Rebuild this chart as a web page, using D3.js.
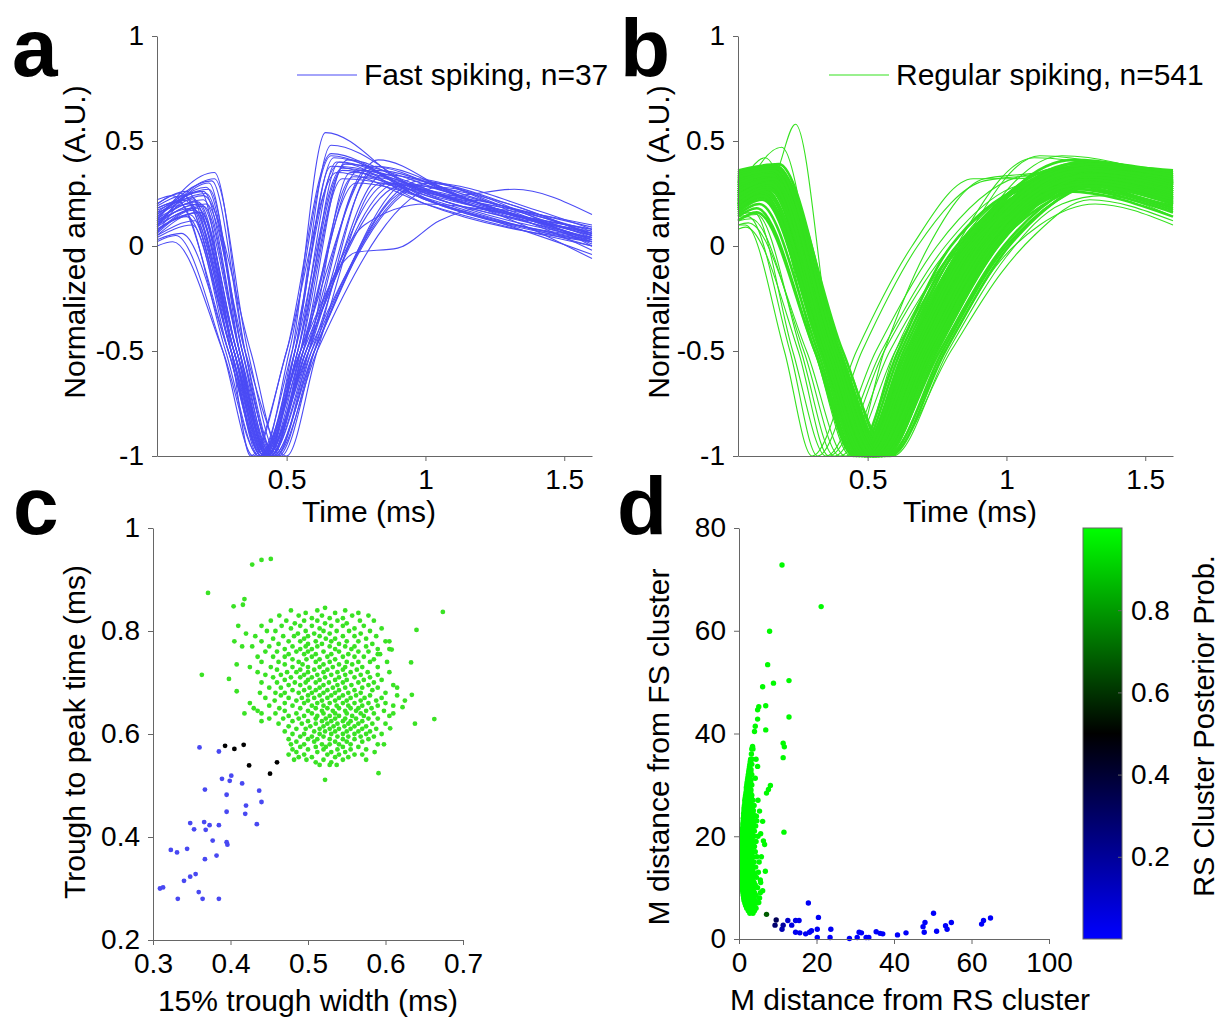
<!DOCTYPE html>
<html><head><meta charset="utf-8">
<script src="https://cdn.jsdelivr.net/npm/d3@7"></script>
<style>body{margin:0;background:#fff}svg{display:block}</style>
</head><body><svg id="fig" width="1222" height="1019"></svg>
<script>
// ---------------- DATA ----------------
const panelLetters = ["a","b","c","d"];
const legendLabels = ["Fast spiking, n=37","Regular spiking, n=541"];
const timeDomain = [0.033, 1.6];
const ampDomain = [-1, 1];
const timeTicks = [0.5, 1, 1.5];
const timeTickLabels = ["0.5","1","1.5"];
const ampTicks = [-1, -0.5, 0, 0.5, 1];
const ampTickLabels = ["-1","-0.5","0","0.5","1"];

// Fast-spiking waveforms: [time (ms), normalized amplitude] control points
const fsWaves = [
 [[.033,.10],[.18,.20],[.31,-.5],[.42,-1],[.52,-.5],[.64,.54],[.95,.28],[1.25,.2],[1.6,.06]],
 [[.033,.14],[.20,.26],[.33,-.5],[.43,-1],[.53,-.5],[.66,.48],[1.0,.25],[1.6,.04]],
 [[.033,.18],[.13,.22],[.30,-.5],[.41,-1],[.51,-.5],[.66,.43],[1.0,.22],[1.6,.02]],
 [[.033,.06],[.22,.30],[.33,-.5],[.43,-1],[.53,-.5],[.67,.42],[1.05,.2],[1.6,.03]],
 [[.033,.12],[.24,.35],[.35,-.5],[.45,-1],[.55,-.5],[.69,.40],[1.0,.24],[1.6,.07]],
 [[.033,.20],[.12,.25],[.30,-.5],[.40,-1],[.52,-.5],[.68,.38],[1.1,.22],[1.6,.05]],
 [[.033,.08],[.19,.16],[.32,-.5],[.43,-1],[.54,-.5],[.70,.36],[1.05,.2],[1.6,.02]],
 [[.033,.15],[.16,.23],[.31,-.5],[.42,-1],[.54,-.5],[.72,.41],[1.0,.26],[1.6,.08]],
 [[.033,.02],[.10,.05],[.27,-.5],[.38,-1],[.50,-.5],[.68,.35],[1.0,.2],[1.6,0]],
 [[.033,.10],[.21,.28],[.34,-.5],[.44,-1],[.56,-.5],[.71,.39],[1.1,.25],[1.6,.09]],
 [[.033,.16],[.15,.20],[.31,-.5],[.43,-1],[.56,-.5],[.74,.33],[1.1,.2],[1.6,.04]],
 [[.033,.05],[.17,.12],[.30,-.5],[.41,-1],[.55,-.5],[.83,.41],[1.1,.25],[1.6,.06]],
 [[.033,.12],[.20,.22],[.33,-.5],[.44,-1],[.57,-.5],[.80,.38],[1.15,.22],[1.6,.05]],
 [[.033,.09],[.18,.18],[.32,-.5],[.42,-1],[.58,-.5],[.82,.36],[1.2,.2],[1.6,.03]],
 [[.033,.20],[.14,.26],[.31,-.5],[.44,-1],[.58,-.5],[.78,.33],[1.2,.18],[1.6,.02]],
 [[.033,.13],[.23,.31],[.35,-.5],[.46,-1],[.59,-.5],[.85,.34],[1.2,.22],[1.6,.07]],
 [[.033,.07],[.15,.15],[.30,-.5],[.43,-1],[.57,-.5],[.90,.30],[1.25,.18],[1.6,.01]],
 [[.033,.11],[.19,.20],[.33,-.5],[.45,-1],[.60,-.5],[.96,.32],[1.3,.18],[1.6,.04]],
 [[.033,.17],[.16,.22],[.32,-.5],[.44,-1],[.59,-.5],[.98,.31],[1.3,.17],[1.6,.02]],
 [[.033,.04],[.16,.10],[.29,-.5],[.42,-1],[.58,-.5],[1.0,.30],[1.3,.2],[1.6,.05]],
 [[.033,.14],[.21,.25],[.34,-.5],[.46,-1],[.61,-.5],[1.05,.28],[1.35,.16],[1.6,0]],
 [[.033,.10],[.17,.17],[.32,-.5],[.45,-1],[.60,-.5],[.95,.27],[1.3,.15],[1.6,-.02]],
 [[.033,.18],[.11,.21],[.28,-.5],[.40,-1],[.55,-.5],[.75,.30],[1.1,.18],[1.6,-.04]],
 [[.033,.06],[.20,.19],[.33,-.5],[.43,-1],[.57,-.5],[.87,.30],[1.1,.24],[1.32,.27],[1.6,.15]],
 [[.033,0],[.09,.02],[.27,-.5],[.40,-1],[.55,-.5],[.75,-.03],[.9,-.01],[1.05,.12],[1.2,.18],[1.6,.06]],
 [[.033,.03],[.12,.06],[.29,-.5],[.41,-1],[.56,-.5],[.78,.10],[1.0,.2],[1.3,.15],[1.6,.03]],
 [[.033,.13],[.18,.21],[.32,-.5],[.44,-1],[.56,-.5],[.76,.36],[1.15,.2],[1.6,.06]],
 [[.033,.22],[.09,.24],[.29,-.5],[.41,-1],[.53,-.5],[.70,.37],[1.05,.23],[1.6,.08]],
 [[.033,.08],[.14,.14],[.30,-.5],[.42,-1],[.54,-.5],[.68,.40],[1.0,.2],[1.6,.02]],
 [[.033,.15],[.22,.27],[.34,-.5],[.46,-1],[.58,-.5],[.73,.35],[1.15,.21],[1.6,.03]],
 [[.033,.11],[.20,.24],[.37,-.5],[.48,-1],[.60,-.5],[.82,.38],[1.2,.2],[1.6,.05]],
 [[.033,.05],[.18,.16],[.31,-.5],[.43,-1],[.55,-.5],[.70,.32],[1.05,.24],[1.6,.10]],
 [[.033,.19],[.13,.24],[.31,-.5],[.44,-1],[.57,-.5],[.92,.29],[1.3,.2],[1.6,.05]],
 [[.033,.09],[.24,.32],[.36,-.5],[.47,-1],[.60,-.5],[1.02,.30],[1.4,.17],[1.6,.08]],
 [[.033,.12],[.16,.18],[.31,-.5],[.41,-1],[.53,-.5],[.66,.38],[.95,.25],[1.6,0]],
 [[.033,.07],[.21,.20],[.35,-.5],[.50,-1],[.61,-.5],[.84,.30],[1.2,.18],[1.6,-.06]],
 [[.033,.16],[.19,.26],[.30,-.5],[.37,-1],[.50,-.5],[.66,.44],[1.0,.22],[1.6,.04]]
];

// Regular-spiking waveforms: traces forming the dense band
const rsWaves = [
 [[.033,.30],[.15,.35],[.36,-.5],[.50,-1],[.68,-.5],[.88,0],[1.28,.37],[1.6,.30]],
 [[.033,.25],[.14,.31],[.35,-.5],[.49,-1],[.66,-.5],[.86,0],[1.25,.34],[1.6,.26]],
 [[.033,.33],[.16,.37],[.38,-.5],[.52,-1],[.70,-.5],[.91,0],[1.30,.38],[1.6,.33]],
 [[.033,.20],[.13,.27],[.34,-.5],[.48,-1],[.65,-.5],[.85,0],[1.22,.32],[1.6,.22]],
 [[.033,.28],[.15,.33],[.37,-.5],[.51,-1],[.70,-.5],[.92,0],[1.32,.35],[1.6,.29]],
 [[.033,.18],[.12,.24],[.33,-.5],[.47,-1],[.63,-.5],[.83,0],[1.20,.30],[1.6,.18]],
 [[.033,.35],[.17,.38],[.39,-.5],[.54,-1],[.72,-.5],[.94,0],[1.34,.36],[1.6,.32]],
 [[.033,.31],[.15,.34],[.37,-.5],[.53,-1],[.71,-.5],[.93,0],[1.30,.33],[1.6,.27]],
 [[.033,.24],[.16,.30],[.36,-.5],[.50,-1],[.67,-.5],[.87,0],[1.26,.36],[1.6,.31]],
 [[.033,.15],[.11,.20],[.32,-.5],[.46,-1],[.62,-.5],[.82,0],[1.18,.28],[1.6,.16]],
 [[.033,.27],[.14,.32],[.38,-.5],[.55,-1],[.74,-.5],[.96,0],[1.36,.34],[1.6,.30]],
 [[.033,.22],[.15,.28],[.35,-.5],[.49,-1],[.69,-.5],[.90,0],[1.30,.31],[1.6,.24]],
 [[.033,.32],[.16,.36],[.40,-.5],[.56,-1],[.75,-.5],[.97,0],[1.38,.36],[1.6,.34]],
 [[.033,.26],[.15,.32],[.36,-.5],[.51,-1],[.69,-.5],[.89,0],[1.24,.39],[1.6,.29]],
 [[.033,.19],[.13,.26],[.34,-.5],[.48,-1],[.64,-.5],[.84,0],[1.21,.35],[1.6,.23]],
 [[.033,.29],[.16,.35],[.39,-.5],[.53,-1],[.72,-.5],[.95,0],[1.33,.30],[1.6,.25]],
 [[.033,.34],[.17,.37],[.38,-.5],[.52,-1],[.69,-.5],[.90,0],[1.27,.40],[1.6,.35]],
 [[.033,.23],[.14,.29],[.36,-.5],[.50,-1],[.70,-.5],[.93,0],[1.35,.29],[1.6,.21]],
 [[.033,.30],[.15,.34],[.37,-.5],[.54,-1],[.73,-.5],[.95,0],[1.31,.37],[1.6,.32]],
 [[.033,.17],[.12,.23],[.33,-.5],[.47,-1],[.66,-.5],[.87,0],[1.25,.27],[1.6,.19]],
 [[.033,.28],[.15,.31],[.35,-.5],[.49,-1],[.67,-.5],[.86,0],[1.22,.36],[1.6,.27]],
 [[.033,.25],[.16,.33],[.38,-.5],[.55,-1],[.76,-.5],[.99,0],[1.40,.33],[1.6,.31]],
 [[.033,.33],[.14,.36],[.37,-.5],[.51,-1],[.68,-.5],[.88,0],[1.26,.38],[1.6,.30]],
 [[.033,.21],[.13,.27],[.35,-.5],[.50,-1],[.68,-.5],[.89,0],[1.28,.33],[1.6,.25]],
 [[.033,.27],[.17,.34],[.40,-.5],[.57,-1],[.77,-.5],[1.00,0],[1.42,.32],[1.6,.30]],
 [[.033,.14],[.10,.18],[.31,-.5],[.45,-1],[.61,-.5],[.80,0],[1.15,.30],[1.6,.17]],
 [[.033,.31],[.16,.36],[.37,-.5],[.52,-1],[.71,-.5],[.92,0],[1.29,.35],[1.6,.28]],
 [[.033,.24],[.14,.30],[.36,-.5],[.51,-1],[.70,-.5],[.91,0],[1.31,.34],[1.6,.26]],
 [[.033,.36],[.18,.39],[.40,-.5],[.55,-1],[.74,-.5],[.96,0],[1.37,.38],[1.6,.36]],
 [[.033,.20],[.14,.28],[.35,-.5],[.49,-1],[.65,-.5],[.85,0],[1.20,.37],[1.6,.28]],
 [[.033,.29],[.15,.33],[.38,-.5],[.53,-1],[.71,-.5],[.92,0],[1.28,.36],[1.6,.29]],
 [[.033,.26],[.16,.31],[.37,-.5],[.52,-1],[.72,-.5],[.94,0],[1.33,.31],[1.6,.24]],
 [[.033,.18],[.12,.25],[.34,-.5],[.48,-1],[.67,-.5],[.88,0],[1.27,.29],[1.6,.20]],
 [[.033,.32],[.15,.35],[.36,-.5],[.50,-1],[.68,-.5],[.87,0],[1.24,.41],[1.6,.33]],
 [[.033,.23],[.15,.29],[.37,-.5],[.53,-1],[.73,-.5],[.96,0],[1.38,.30],[1.6,.27]],
 [[.033,.28],[.16,.34],[.39,-.5],[.54,-1],[.71,-.5],[.92,0],[1.30,.38],[1.6,.34]],
 [[.033,.12],[.10,.16],[.31,-.5],[.46,-1],[.64,-.5],[.85,0],[1.22,.26],[1.6,.14]],
 [[.033,.30],[.16,.36],[.38,-.5],[.52,-1],[.70,-.5],[.90,0],[1.26,.35],[1.6,.26]],
 [[.033,.25],[.14,.30],[.36,-.5],[.51,-1],[.69,-.5],[.91,0],[1.32,.36],[1.6,.32]],
 [[.033,.34],[.17,.38],[.41,-.5],[.58,-1],[.78,-.5],[1.01,0],[1.44,.34],[1.6,.33]],
 [[.033,.21],[.13,.26],[.34,-.5],[.49,-1],[.66,-.5],[.86,0],[1.23,.31],[1.6,.21]],
 [[.033,.27],[.15,.32],[.37,-.5],[.52,-1],[.70,-.5],[.91,0],[1.29,.39],[1.6,.31]],
 [[.033,.16],[.12,.22],[.33,-.5],[.47,-1],[.64,-.5],[.84,0],[1.19,.33],[1.6,.20]],
 [[.033,.32],[.16,.35],[.38,-.5],[.53,-1],[.72,-.5],[.93,0],[1.31,.37],[1.6,.31]],
 [[.033,.22],[.14,.28],[.35,-.5],[.50,-1],[.69,-.5],[.90,0],[1.29,.32],[1.6,.23]],
 [[.033,.29],[.15,.33],[.36,-.5],[.51,-1],[.69,-.5],[.89,0],[1.27,.34],[1.6,.28]],
 [[.033,.26],[.16,.32],[.39,-.5],[.56,-1],[.75,-.5],[.97,0],[1.39,.35],[1.6,.33]],
 [[.033,.19],[.13,.25],[.35,-.5],[.49,-1],[.67,-.5],[.88,0],[1.26,.30],[1.6,.22]],
 [[.033,.35],[.17,.38],[.39,-.5],[.54,-1],[.73,-.5],[.94,0],[1.32,.39],[1.6,.34]],
 [[.033,.24],[.15,.30],[.37,-.5],[.52,-1],[.71,-.5],[.92,0],[1.30,.33],[1.6,.27]],
 [[.033,.31],[.16,.35],[.37,-.5],[.52,-1],[.70,-.5],[.91,0],[1.30,.36],[1.6,.30]],
 [[.033,.22],[.14,.29],[.35,-.5],[.49,-1],[.67,-.5],[.87,0],[1.24,.33],[1.6,.25]],
 [[.033,.27],[.15,.33],[.36,-.5],[.51,-1],[.70,-.5],[.91,0],[1.30,.35],[1.6,.28]],
 [[.033,.19],[.13,.26],[.34,-.5],[.49,-1],[.68,-.5],[.89,0],[1.27,.31],[1.6,.23]],
 [[.033,.33],[.16,.36],[.38,-.5],[.53,-1],[.72,-.5],[.93,0],[1.31,.36],[1.6,.33]],
 [[.033,.25],[.15,.31],[.37,-.5],[.52,-1],[.71,-.5],[.92,0],[1.30,.34],[1.6,.28]],
 [[.033,.29],[.16,.35],[.38,-.5],[.54,-1],[.73,-.5],[.94,0],[1.33,.36],[1.6,.31]],
 [[.033,.21],[.14,.28],[.36,-.5],[.51,-1],[.69,-.5],[.90,0],[1.28,.32],[1.6,.24]],
 [[.033,.35],[.17,.38],[.38,-.5],[.53,-1],[.71,-.5],[.92,0],[1.30,.39],[1.6,.35]],
 [[.033,.24],[.15,.30],[.36,-.5],[.50,-1],[.69,-.5],[.89,0],[1.27,.34],[1.6,.27]],
 [[.033,.28],[.15,.32],[.37,-.5],[.53,-1],[.72,-.5],[.93,0],[1.32,.35],[1.6,.30]],
 [[.033,.17],[.12,.24],[.34,-.5],[.48,-1],[.66,-.5],[.86,0],[1.24,.30],[1.6,.20]],
 [[.033,.30],[.16,.34],[.39,-.5],[.55,-1],[.74,-.5],[.96,0],[1.36,.35],[1.6,.32]],
 [[.033,.26],[.14,.31],[.35,-.5],[.50,-1],[.68,-.5],[.88,0],[1.25,.36],[1.6,.29]],
 [[.033,.32],[.16,.36],[.37,-.5],[.52,-1],[.70,-.5],[.90,0],[1.28,.37],[1.6,.31]],
 [[.033,.23],[.15,.29],[.37,-.5],[.53,-1],[.72,-.5],[.94,0],[1.34,.32],[1.6,.26]],
 [[.033,.20],[.13,.26],[.35,-.5],[.50,-1],[.68,-.5],[.88,0],[1.26,.32],[1.6,.23]],
 [[.033,.28],[.16,.34],[.38,-.5],[.52,-1],[.71,-.5],[.91,0],[1.29,.36],[1.6,.30]],
 [[.033,.34],[.17,.37],[.39,-.5],[.55,-1],[.74,-.5],[.95,0],[1.35,.37],[1.6,.34]],
 [[.033,.26],[.15,.31],[.36,-.5],[.52,-1],[.71,-.5],[.92,0],[1.30,.33],[1.6,.27]],
 [[.033,.22],[.14,.28],[.36,-.5],[.51,-1],[.70,-.5],[.91,0],[1.29,.33],[1.6,.25]],
 [[.033,.31],[.15,.35],[.37,-.5],[.51,-1],[.69,-.5],[.89,0],[1.26,.37],[1.6,.30]],
 [[.033,.29],[.16,.33],[.38,-.5],[.54,-1],[.73,-.5],[.95,0],[1.34,.34],[1.6,.29]],
 [[.033,.18],[.12,.24],[.34,-.5],[.49,-1],[.67,-.5],[.87,0],[1.25,.29],[1.6,.21]],
 [[.033,.27],[.15,.32],[.37,-.5],[.52,-1],[.71,-.5],[.92,0],[1.31,.36],[1.6,.32]],
 [[.033,.33],[.16,.36],[.38,-.5],[.54,-1],[.72,-.5],[.93,0],[1.32,.38],[1.6,.33]],
 [[.033,.24],[.15,.30],[.35,-.5],[.50,-1],[.69,-.5],[.90,0],[1.28,.33],[1.6,.26]],
 [[.033,.20],[.14,.27],[.37,-.5],[.52,-1],[.71,-.5],[.92,0],[1.30,.30],[1.6,.22]],
 [[.033,.30],[.15,.34],[.36,-.5],[.52,-1],[.70,-.5],[.90,0],[1.28,.36],[1.6,.29]],
 [[.033,.26],[.16,.32],[.38,-.5],[.53,-1],[.72,-.5],[.93,0],[1.31,.34],[1.6,.28]]
];
// Regular-spiking waveforms: atypical traces outside the band
const rsOddWaves = [
 [[.033,.25],[.16,.32],[.24,.58],[.37,-.5],[.46,-1],[.60,-.5],[.82,0],[1.2,.35],[1.6,.27]],
 [[.033,.20],[.19,.47],[.35,-.5],[.47,-1],[.63,-.5],[.84,0],[1.22,.38],[1.6,.30]],
 [[.033,.26],[.13,.42],[.33,-.5],[.46,-1],[.62,-.5],[.83,0],[1.2,.34],[1.6,.25]],
 [[.033,.10],[.06,.10],[.20,-.5],[.30,-1],[.46,-.5],[.66,0],[.88,.32],[1.0,.32],[1.3,.33],[1.6,.25]],
 [[.033,.13],[.07,.14],[.22,-.5],[.32,-1],[.48,-.5],[.68,0],[.92,.31],[1.05,.33],[1.35,.32],[1.6,.27]],
 [[.033,.08],[.06,.09],[.25,-.5],[.36,-1],[.55,-.5],[.78,0],[1.1,.30],[1.3,.30],[1.6,.20]],
 [[.033,.12],[.08,.13],[.27,-.5],[.40,-1],[.58,-.5],[.82,0],[1.2,.32],[1.6,.22]],
 [[.033,.15],[.09,.16],[.23,-.5],[.35,-1],[.53,-.5],[.75,0],[1.1,.34],[1.6,.26]],
 [[.033,.10],[.07,.11],[.28,-.5],[.42,-1],[.60,-.5],[.84,0],[1.24,.28],[1.6,.18]],
 [[.033,.14],[.10,.15],[.26,-.5],[.38,-1],[.56,-.5],[.80,0],[1.18,.30],[1.6,.21]],
 [[.033,.27],[.16,.33],[.40,-.5],[.57,-1],[.80,-.5],[.98,-.13],[1.1,.05],[1.3,.22],[1.6,.12]],
 [[.033,.22],[.15,.30],[.39,-.5],[.56,-1],[.78,-.5],[.96,-.10],[1.12,.10],[1.32,.20],[1.6,.10]],
 [[.033,.31],[.17,.35],[.41,-.5],[.59,-1],[.79,-.5],[1.0,-.05],[1.2,.20],[1.35,.24],[1.6,.14]],
 [[.033,.26],[.15,.32],[.36,-.5],[.50,-1],[.66,-.5],[.84,0],[1.12,.43],[1.6,.30]],
 [[.033,.30],[.16,.35],[.37,-.5],[.51,-1],[.67,-.5],[.86,0],[1.2,.43],[1.6,.32]],
 [[.033,.24],[.14,.30],[.35,-.5],[.49,-1],[.64,-.5],[.82,0],[1.10,.42],[1.6,.28]],
 [[.033,.18],[.13,.25],[.31,-.5],[.44,-1],[.56,-.5],[.72,0],[.92,.32],[1.05,.34],[1.3,.36],[1.6,.28]]
];

// Panel c: 15% trough width (ms) vs trough-to-peak time (ms)
const cWidthTicks = [0.3,0.4,0.5,0.6,0.7];
const cWidthTickLabels = ["0.3","0.4","0.5","0.6","0.7"];
const cTtpTicks = [0.2,0.4,0.6,0.8,1];
const cTtpTickLabels = ["0.2","0.4","0.6","0.8","1"];
const cFsPoints = [[.309,.300],[.313,.302],[.323,.375],[.331,.370],[.344,.377],[.332,.280],[.340,.315],[.348,.323],[.355,.328],[.359,.293],[.364,.280],[.348,.427],[.353,.415],[.366,.429],[.368,.414],[.373,.423],[.385,.423],[.377,.393],[.367,.357],[.382,.364],[.385,.280],[.395,.390],[.396,.385],[.395,.449],[.395,.482],[.367,.492],[.360,.574],[.385,.566],[.389,.513],[.399,.509],[.401,.519],[.415,.504],[.419,.445],[.420,.461],[.434,.425],[.437,.490],[.440,.468]];
const cAmbPoints = [[.393,.577],[.405,.571],[.417,.579],[.424,.539],[.451,.523],[.460,.545]];
const cRsExtra = [[.428,.929],[.440,.938],[.452,.940],[.371,.874],[.404,.848],[.416,.851],[.418,.862],[.363,.715],[.398,.707],[.408,.683],[.674,.837],[.640,.802],[.633,.739],[.634,.676],[.638,.620],[.663,.629],[.591,.524],[.522,.511],[.608,.764],[.622,.652],[.606,.611],[.41,.81],[.405,.78],[.415,.77],[.42,.795],[.408,.735],[.425,.66],[.435,.645],[.44,.625],[.418,.64],[.605,.78],[.59,.755],[.615,.69],[.61,.64],[.598,.58],[.586,.565],[.575,.55]];
// rows: [trough-to-peak time, [15% widths...]]
const cRsRows = [
[.845,[.522]],[.84,[.478,.512,.548]],[.835,[.497,.535,.565]],[.83,[.463,.488,.518,.557,.578]],
[.825,[.505,.528,.545]],[.82,[.452,.472,.495,.512,.538,.567,.585]],[.815,[.483,.522,.55]],
[.81,[.44,.466,.49,.505,.53,.545,.572]],[.805,[.478,.515,.56,.595]],[.80,[.447,.458,.497,.52,.537,.553,.58]],
[.795,[.487,.508,.528,.568]],[.79,[.432,.468,.482,.50,.515,.545,.56,.588]],[.785,[.455,.495,.523,.535,.575]],
[.78,[.44,.475,.49,.51,.53,.55,.565,.60]],[.775,[.462,.50,.518,.54,.583]],[.77,[.428,.45,.48,.497,.512,.528,.548,.56,.575]],
[.765,[.47,.49,.505,.535,.556,.59,.605]],[.76,[.445,.46,.485,.50,.52,.54,.565,.578]],[.755,[.475,.495,.51,.53,.552,.593]],
[.75,[.435,.455,.47,.505,.525,.545,.56,.572]],[.745,[.48,.498,.515,.535,.585]],[.74,[.44,.462,.488,.51,.528,.55,.565,.58,.602]],
[.735,[.47,.493,.52,.54,.557]],[.73,[.425,.452,.48,.50,.515,.532,.548,.57,.59]],[.725,[.46,.49,.508,.525,.545,.563]],
[.72,[.435,.473,.485,.50,.52,.538,.555,.577,.605]],[.715,[.445,.465,.495,.512,.53,.548,.568,.59]],[.71,[.455,.478,.49,.505,.522,.54,.56,.58]],
[.705,[.47,.50,.515,.535,.55,.572,.595]],[.70,[.44,.46,.483,.497,.51,.527,.545,.565,.585]],[.695,[.475,.49,.52,.538,.556,.578,.61]],
[.69,[.45,.465,.502,.515,.532,.548,.57,.59]],[.685,[.48,.495,.51,.525,.54,.56,.583]],[.68,[.438,.458,.47,.488,.505,.52,.535,.552,.568,.60]],
[.675,[.465,.50,.515,.53,.545,.562,.58,.615]],[.67,[.445,.475,.492,.508,.525,.54,.555,.573,.595]],[.665,[.457,.485,.50,.518,.535,.55,.568,.588,.625]],
[.66,[.47,.495,.512,.528,.545,.56,.578,.60]],[.655,[.45,.48,.505,.52,.537,.552,.57,.59,.61]],[.65,[.43,.463,.49,.51,.525,.54,.555,.565,.582]],
[.645,[.47,.50,.518,.532,.548,.562,.575,.598]],[.64,[.44,.458,.485,.505,.52,.535,.55,.568,.585]],[.635,[.475,.495,.512,.528,.54,.557,.572,.605]],
[.63,[.45,.468,.488,.51,.523,.535,.548,.562,.578,.59]],[.625,[.48,.50,.518,.53,.545,.555,.57]],[.62,[.462,.492,.51,.525,.538,.552,.565,.583,.60]],
[.615,[.475,.503,.52,.533,.547,.56,.575]],[.61,[.485,.497,.515,.528,.54,.555,.57,.588]],[.605,[.47,.508,.522,.535,.55,.565,.58]],
[.60,[.48,.495,.515,.53,.545,.56,.575,.595]],[.595,[.49,.505,.52,.538,.552,.568,.585]],[.59,[.475,.50,.512,.528,.545,.56,.578]],
[.585,[.485,.508,.535,.55,.57]],[.58,[.478,.495,.518,.528,.54,.555,.59]],[.575,[.49,.51,.523,.545,.565]],
[.57,[.48,.50,.52,.538,.555,.575]],[.565,[.485,.512,.53,.548]],[.56,[.475,.495,.525,.54,.56,.57]],
[.555,[.488,.505,.535,.552]],[.55,[.482,.498,.52,.545]],[.545,[.51,.53]],[.54,[.515,.528,.537]]
];

// Panel d: Mahalanobis distances
const dRsDistTicks = [0,20,40,60,80];
const dRsDistTickLabels = ["0","20","40","60","100"];
const dFsDistTicks = [0,20,40,60,80];
const dFsDistTickLabels = ["0","20","40","60","80"];
const probTicks = [0.2,0.4,0.6,0.8];
const probTickLabels = ["0.2","0.4","0.6","0.8"];
const dOtherPoints = [[7.1,4.8],[17.9,7.0],[9.6,3.7],[9.3,2.7],[11.1,1.9],[11.4,2.7],[12.6,3.6],[13.6,2.7],[14.6,3.6],[15.5,3.6],[14.6,1.3],[15.7,1.2],[17.2,1.0],[18.2,1.3],[18.7,1.6],[20.5,4.2],[20.2,1.9],[20.2,0.3],[23.7,1.9],[23.5,0.3],[28.5,0.1],[30.5,0.3],[31.0,1.3],[31.6,1.2],[32.8,0.3],[33.5,0.3],[35.4,1.4],[36.4,1.1],[37.1,1.0],[40.9,0.8],[43.1,1.2],[47.5,2.4],[48.0,3.2],[47.8,1.3],[50.2,5.0],[51.0,1.5],[53.3,2.6],[53.7,1.9],[54.8,3.2],[62.6,2.9],[63.1,3.6],[64.9,4.1]];
const dOtherProb = [0.68,0.02,0.33,0.28,0.15,0.18,0.1,0.06,0.05,0.04,0.03,0.03,0.02,0.02,0.02,0.02,0.02,0.01,0.02,0.01,0.01,0.01,0.01,0.01,0.01,0.01,0.01,0.01,0.01,0.01,0.01,0.01,0.01,0.01,0.01,0.01,0.01,0.01,0.01,0.01,0.01,0.01];
const dRsProb = 0.99;
const dRsExtra = [[11.1,72.8],[21.2,64.7],[7.9,59.9],[7.4,53.4],[6.1,49.1],[8.9,49.8],[12.9,50.3],[12.9,43.2],[5.1,45.2],[4.8,44.6],[6.9,45.4],[4.8,42.8],[4.2,41.4],[4.0,40.4],[3.5,37.5],[6.9,40.7],[11.4,38.1],[11.7,37.4],[11.4,35.3],[11.6,20.8],[8.1,29.9],[7.6,29.1],[7.1,28.4],[6.8,13.2],[6.1,9.4],[5.1,7.1],[3.5,5.5],[6.6,18.4],[6.3,19.1],[6.1,22.9],[5.3,24.9],[4.5,23.9],[4.8,33.6],[4.2,31.3],[3.0,32.6],[5.8,16.0],[5.5,11.5],[4.9,27.0],[4.4,35.0],[5.6,20.5]];
// rows: [distance from FS cluster, [distances from RS cluster...]]
const dRsRows = [
[5,[2.8,3.6]],[5.5,[2.4,3.2,4.0]],[6,[2.0,2.7,3.4,4.4]],[6.5,[1.7,2.3,3.0,3.9]],[7,[1.5,2.1,2.8,3.5,4.6]],
[7.5,[1.3,1.8,2.5,3.2,4.2]],[8,[1.2,1.7,2.3,3.0,3.8,5.3]],[8.5,[1.1,1.5,2.1,2.7,3.4,4.4]],[9,[1.0,1.4,1.9,2.5,3.1,4.0,5.5]],
[9.5,[0.9,1.3,1.8,2.3,2.9,3.7]],[10,[0.9,1.2,1.7,2.2,2.8,3.5,4.8]],[10.5,[0.8,1.2,1.6,2.1,2.6,3.2,4.2]],
[11,[0.8,1.1,1.5,2.0,2.5,3.0,3.9,5.6]],[11.5,[0.8,1.1,1.5,1.9,2.4,2.9,3.6]],[12,[0.7,1.0,1.4,1.8,2.3,2.8,3.4,4.5]],
[12.5,[0.7,1.0,1.4,1.8,2.2,2.7,3.2,4.0]],[13,[0.7,1.0,1.3,1.7,2.1,2.6,3.1,3.7,5.0]],[13.5,[0.7,1.0,1.3,1.7,2.1,2.5,3.0,3.5]],
[14,[0.7,0.9,1.3,1.6,2.0,2.5,3.0,3.5,4.3]],[14.5,[0.7,0.9,1.2,1.6,2.0,2.4,2.9,3.4]],[15,[0.7,0.9,1.2,1.6,2.0,2.4,2.9,3.3,3.9,5.2]],
[15.5,[0.7,0.9,1.2,1.5,1.9,2.3,2.8,3.2]],[16,[0.7,0.9,1.2,1.5,1.9,2.3,2.8,3.2,3.7,4.6]],[16.5,[0.7,0.9,1.2,1.5,1.9,2.3,2.7,3.1]],
[17,[0.7,0.9,1.2,1.5,1.9,2.3,2.7,3.1,3.6,4.2]],[17.5,[0.7,1.0,1.2,1.5,1.9,2.3,2.7,3.1]],[18,[0.7,1.0,1.3,1.6,1.9,2.3,2.7,3.1,3.5,4.0]],
[18.5,[0.8,1.0,1.3,1.6,2.0,2.4,2.8,3.2]],[19,[0.8,1.0,1.3,1.6,2.0,2.4,2.8,3.2,3.6,4.4]],[19.5,[0.8,1.1,1.4,1.7,2.0,2.4,2.8,3.3]],
[20,[0.8,1.1,1.4,1.7,2.1,2.5,2.9,3.4,3.9,4.9]],[20.5,[0.9,1.1,1.4,1.8,2.1,2.5,2.9,3.4]],[21,[0.9,1.2,1.5,1.8,2.2,2.6,3.0,3.5,4.0]],
[21.5,[0.9,1.2,1.5,1.9,2.2,2.6,3.1,3.6]],[22,[1.0,1.3,1.6,1.9,2.3,2.7,3.1,3.6,4.3]],[22.5,[1.0,1.3,1.6,2.0,2.4,2.8,3.2,3.7]],
[23,[1.1,1.4,1.7,2.1,2.5,2.9,3.3,3.9,4.6]],[23.5,[1.1,1.4,1.8,2.1,2.5,3.0,3.4]],[24,[1.2,1.5,1.8,2.2,2.6,3.0,3.5,4.1]],
[24.5,[1.2,1.5,1.9,2.3,2.7,3.1,3.6]],[25,[1.3,1.6,2.0,2.4,2.8,3.2,3.7]],[25.5,[1.3,1.7,2.1,2.4,2.8,3.3]],
[26,[1.4,1.7,2.1,2.5,2.9,3.4,3.9]],[26.5,[1.5,1.8,2.2,2.6,3.0]],[27,[1.5,1.9,2.3,2.7,3.1,3.6]],[27.5,[1.6,2.0,2.4,2.8,3.2]],
[28,[1.7,2.1,2.5,2.9,3.3]],[28.5,[1.8,2.2,2.6,3.0]],[29,[1.9,2.3,2.7,3.1]],[29.5,[1.9,2.4,2.8]],[30,[2.0,2.5,2.9,3.3]],
[30.5,[2.1,2.6,3.0]],[31,[2.2,2.7,3.1]],[31.5,[2.3,2.8]],[32,[2.4,2.9,3.3]],[32.5,[2.5,3.0]],[33,[2.6,3.1]],[33.5,[2.7]],
[34,[2.8,3.3]],[34.5,[2.9]],[35,[3.0,3.4]],[36,[3.2]],[37,[3.3,3.6]]
];

// ---------------- DRAW ----------------
const FONT = '"Liberation Sans", Arial, Helvetica, sans-serif';
const AXC = "#666";
const svg = d3.select("#fig");
const FS_LINE = "#4b4bf5", RS_LINE = "#34e11e";
const C_GREEN = "#3ae224", C_BLUE = "#4848f2";
const probColor = d3.scaleLinear().domain([0,0.5,1]).range(["#0000ff","#000000","#00ff00"]);

function styleAxis(g){
  g.attr("font-family", FONT).attr("font-size", 28);
  g.select(".domain").attr("stroke", AXC);
  g.selectAll(".tick line").attr("stroke", AXC);
  g.selectAll(".tick text").attr("fill", "#000");
}
function label(x, y, txt, rot, size){
  svg.append("text").attr("transform", `translate(${x},${y})` + (rot ? " rotate(-90)" : ""))
    .attr("text-anchor","middle").attr("font-family",FONT).attr("font-size",size||30).attr("fill","#000").text(txt);
}

function wavePanel(xr, groups, color, legendText, lx){
  const x = d3.scaleLinear().domain(timeDomain).range(xr);
  const y = d3.scaleLinear().domain(ampDomain).range([456, 36]);
  const line = d3.line().x(d => x(d[0])).y(d => y(d[1])).curve(d3.curveMonotoneX);
  groups.forEach(([waves, width]) => {
    svg.append("g").selectAll("path").data(waves).join("path")
      .attr("d", line).attr("fill","none").attr("stroke",color).attr("stroke-width",width)
      .attr("stroke-linejoin","round");
  });
  svg.append("g").attr("transform",`translate(0,456)`)
    .call(d3.axisBottom(x).tickValues(timeTicks).tickFormat((d,i)=>timeTickLabels[i]).tickSize(5).tickPadding(8).tickSizeOuter(0)).call(styleAxis);
  svg.append("g").attr("transform",`translate(${xr[0]},0)`)
    .call(d3.axisLeft(y).tickValues(ampTicks).tickFormat((d,i)=>ampTickLabels[i]).tickSize(5).tickPadding(8).tickSizeOuter(0)).call(styleAxis);
  svg.append("line").attr("x1",lx).attr("x2",lx+60).attr("y1",75).attr("y2",75).attr("stroke",color).attr("stroke-width",1.1);
  svg.append("text").attr("x",lx+67).attr("y",85).attr("font-family",FONT).attr("font-size",30).attr("fill","#000").text(legendText);
}
wavePanel([157, 592], [[fsWaves, 1.1]], FS_LINE, legendLabels[0], 297);
wavePanel([738, 1173], [[rsOddWaves, 1.1], [rsWaves, 2.6]], RS_LINE, legendLabels[1], 829);
label(369, 522, "Time (ms)");
label(970, 522, "Time (ms)");
label(85, 242, "Normalized amp. (A.U.)", true);
label(669, 242, "Normalized amp. (A.U.)", true);

// Panel c
{
  const x = d3.scaleLinear().domain([0.3,0.7]).range([153,463]);
  const y = d3.scaleLinear().domain([0.2,1]).range([940,528]);
  const rs = cRsRows.flatMap(([t, ws]) => ws.map(w => [w, t])).concat(cRsExtra);
  const g = svg.append("g");
  g.selectAll("circle.rs").data(rs).join("circle").attr("class","rs")
    .attr("cx",d=>x(d[0])).attr("cy",d=>y(d[1])).attr("r",2.4).attr("fill",C_GREEN);
  g.selectAll("circle.fs").data(cFsPoints).join("circle").attr("class","fs")
    .attr("cx",d=>x(d[0])).attr("cy",d=>y(d[1])).attr("r",2.4).attr("fill",C_BLUE);
  g.selectAll("circle.amb").data(cAmbPoints).join("circle").attr("class","amb")
    .attr("cx",d=>x(d[0])).attr("cy",d=>y(d[1])).attr("r",2.4).attr("fill","#000");
  svg.append("g").attr("transform","translate(0,940)")
    .call(d3.axisBottom(x).tickValues(cWidthTicks).tickFormat((d,i)=>cWidthTickLabels[i]).tickSize(5).tickPadding(8).tickSizeOuter(0)).call(styleAxis);
  svg.append("g").attr("transform","translate(153,0)")
    .call(d3.axisLeft(y).tickValues(cTtpTicks).tickFormat((d,i)=>cTtpTickLabels[i]).tickSize(5).tickPadding(8).tickSizeOuter(0)).call(styleAxis);
  label(308, 1011, "15% trough width (ms)");
  label(85, 732, "Trough to peak time (ms)", true);
}

// Panel d
{
  const x = d3.scaleLinear().domain([0,80]).range([739,1049]);
  const y = d3.scaleLinear().domain([0,80]).range([939,528]);
  const rs = dRsRows.flatMap(([f, rr]) => rr.map(r => [r, f])).concat(dRsExtra);
  const g = svg.append("g");
  g.selectAll("circle.rs").data(rs).join("circle").attr("class","rs")
    .attr("cx",d=>x(d[0])).attr("cy",d=>y(d[1])).attr("r",2.7).attr("fill",probColor(dRsProb));
  g.selectAll("circle.o").data(dOtherPoints).join("circle").attr("class","o")
    .attr("cx",d=>x(d[0])).attr("cy",d=>y(d[1])).attr("r",2.7).attr("fill",(d,i)=>probColor(dOtherProb[i]));
  svg.append("g").attr("transform","translate(0,939)")
    .call(d3.axisBottom(x).tickValues(dRsDistTicks).tickFormat((d,i)=>dRsDistTickLabels[i]).tickSize(5).tickPadding(8).tickSizeOuter(0)).call(styleAxis);
  svg.append("g").attr("transform","translate(739,0)")
    .call(d3.axisLeft(y).tickValues(dFsDistTicks).tickFormat((d,i)=>dFsDistTickLabels[i]).tickSize(5).tickPadding(8).tickSizeOuter(0)).call(styleAxis);
  label(910, 1010, "M distance from RS cluster");
  label(669, 747, "M distance from FS cluster", true);

  // colorbar
  const defs = svg.append("defs");
  const grad = defs.append("linearGradient").attr("id","cb").attr("x1",0).attr("x2",0).attr("y1",1).attr("y2",0);
  [0,0.25,0.5,0.75,1].forEach(v => grad.append("stop").attr("offset",v).attr("stop-color",probColor(v)));
  const cy = d3.scaleLinear().domain([0,1]).range([939,528]);
  svg.append("rect").attr("x",1083).attr("y",cy(1)).attr("width",39).attr("height",cy(0)-cy(1))
    .attr("fill","url(#cb)").attr("stroke",AXC).attr("stroke-width",1);
  svg.append("g").attr("transform","translate(1122,0)")
    .call(d3.axisRight(cy).tickValues(probTicks).tickFormat((d,i)=>probTickLabels[i]).tickSize(-4).tickPadding(9).tickSizeOuter(0)).call(styleAxis)
    .call(g => g.select(".domain").remove());
  svg.append("text").attr("transform","translate(1214,726) rotate(-90)").attr("text-anchor","middle")
    .attr("font-family",FONT).attr("font-size",29).attr("fill","#000").text("RS Cluster Posterior Prob.");
}

// panel letters
[[12,76],[620,76],[13,534],[617,534]].forEach((p,i) => {
  svg.append("text").attr("x",p[0]).attr("y",p[1]).attr("font-family",FONT).attr("font-weight","bold")
    .attr("font-size",82).attr("fill","#000").text(panelLetters[i]);
});
</script>
</body></html>
